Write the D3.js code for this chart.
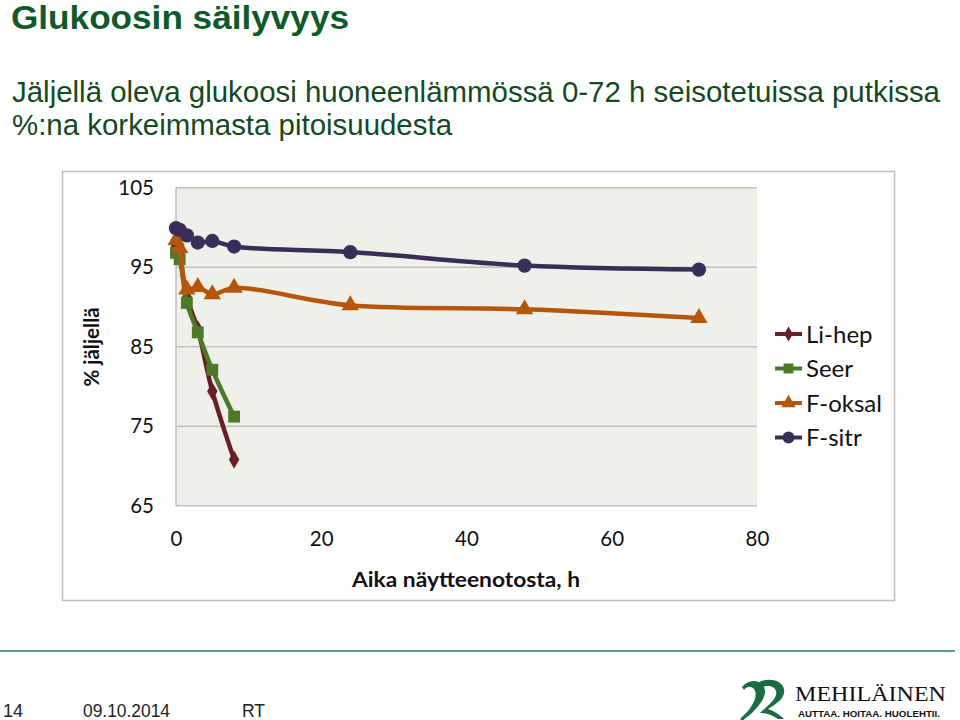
<!DOCTYPE html>
<html><head><meta charset="utf-8">
<script src="https://cdn.jsdelivr.net/npm/d3@7"></script>
<style>body{margin:0;background:#fff}svg{display:block}</style>
</head><body>
<svg id="c" width="960" height="720"></svg>
<script>
const hours = [0, 0.5, 1.5, 3, 5, 8, 24, 48, 72];
const liHep = [97.6, 96.5, 91.2, 87.2, 79.4, 70.8];
const seer = [96.8, 96.0, 90.5, 86.8, 82.1, 76.2];
const fOksal = [98.4, 97.4, 92.2, 92.5, 91.6, 92.4, 90.2, 89.7, 88.6];
const fSitr = [99.9, 99.7, 99.0, 98.1, 98.3, 97.6, 96.9, 95.2, 94.7];
const seriesNames = ["Li-hep", "Seer", "F-oksal", "F-sitr"];
const seriesColors = ["#6a1f27", "#4d7a28", "#b5560c", "#3a2d58"];
const seriesShapes = ["diamond", "square", "triangle", "circle"];
const yTicks = [65, 75, 85, 95, 105];
const xTicks = [0, 20, 40, 60, 80];

const svg = d3.select("#c");
const green = "#0f5a2a";
const ff = "Liberation Sans, Arial, sans-serif";

// Title
svg.append("text").attr("x", 11).attr("y", 29)
  .attr("font-family", ff).attr("font-weight", "bold")
  .attr("font-size", 33).attr("fill", green)
  .attr("textLength", 338).attr("lengthAdjust", "spacingAndGlyphs").text("Glukoosin säilyvyys");
svg.append("text").attr("x", 12).attr("y", 102)
  .attr("font-family", ff)
  .attr("font-size", 29.5).attr("fill", "#134a23")
  .attr("textLength", 928).attr("lengthAdjust", "spacingAndGlyphs")
  .text("Jäljellä oleva glukoosi huoneenlämmössä 0-72 h seisotetuissa putkissa");
svg.append("text").attr("x", 12).attr("y", 135)
  .attr("font-family", ff)
  .attr("font-size", 29.5).attr("fill", "#134a23")
  .attr("textLength", 440).attr("lengthAdjust", "spacingAndGlyphs")
  .text("%:na korkeimmasta pitoisuudesta");

// Chart frame
svg.append("rect").attr("x", 62.5).attr("y", 171.5).attr("width", 832).attr("height", 429)
  .attr("fill", "#fff").attr("stroke", "#bdbdbd").attr("stroke-width", 1.5);

const x = d3.scaleLinear().domain([0, 80]).range([176, 757]);
const y = d3.scaleLinear().domain([65, 105]).range([505.7, 187.7]);

svg.append("rect").attr("x", x(0)).attr("y", y(105)).attr("width", x(80) - x(0)).attr("height", y(65) - y(105))
  .attr("fill", "#eef0e9");

// gridlines
svg.append("g").selectAll("line").data(yTicks).join("line")
  .attr("x1", x(0)).attr("x2", x(80)).attr("y1", d => y(d)).attr("y2", d => y(d))
  .attr("stroke", "#bfc1bc").attr("stroke-width", 1.5);
svg.append("line").attr("x1", x(0)).attr("x2", x(0)).attr("y1", y(105)).attr("y2", y(65))
  .attr("stroke", "#bfc1bc").attr("stroke-width", 1.5);

const tickFont = "Lato, 'Open Sans', sans-serif";
// y axis
const yAxis = d3.axisLeft(y).tickValues(yTicks).tickSize(0).tickPadding(22);
const gy = svg.append("g").attr("transform", `translate(${x(0)},0)`).call(yAxis);
gy.select(".domain").remove();
gy.selectAll("text").attr("font-family", tickFont).attr("font-size", 20.5).attr("fill", "#111");

const xAxis = d3.axisBottom(x).tickValues(xTicks).tickSize(0).tickPadding(26);
const gx = svg.append("g").attr("transform", `translate(0,${y(65)})`).call(xAxis);
gx.select(".domain").remove();
gx.selectAll("text").attr("font-family", tickFont).attr("font-size", 20.5).attr("fill", "#111");

svg.append("text").attr("x", 466).attr("y", 587).attr("text-anchor", "middle")
  .attr("font-family", tickFont).attr("font-weight", "bold").attr("font-size", 21).attr("fill", "#111")
  .attr("textLength", 228).attr("lengthAdjust", "spacingAndGlyphs")
  .text("Aika näytteenotosta, h");
svg.append("text").attr("transform", "translate(99,347) rotate(-90)").attr("text-anchor", "middle")
  .attr("font-family", tickFont).attr("font-weight", "bold").attr("font-size", 20.5).attr("fill", "#111")
  .text("% jäljellä");

const allValues = [liHep, seer, fOksal, fSitr];
const symbolType = {diamond: d3.symbolDiamond, square: d3.symbolSquare, triangle: d3.symbolTriangle, circle: d3.symbolCircle};
const symbolSize = {diamond: 95, square: 140, triangle: 130, circle: 160};
const line = d3.line().x(d => x(d[0])).y(d => y(d[1])).curve(d3.curveCatmullRom.alpha(0.5));

[0, 1, 2, 3].forEach(i => {
  const pts = allValues[i].map((v, j) => [hours[j], v]);
  const g = svg.append("g");
  g.append("path").attr("d", line(pts)).attr("fill", "none")
    .attr("stroke", seriesColors[i]).attr("stroke-width", 4.5).attr("stroke-linejoin", "round");
  g.selectAll("path.m").data(pts).join("path").attr("class", "m")
    .attr("transform", d => `translate(${x(d[0])},${y(d[1])})`)
    .attr("d", d3.symbol().type(symbolType[seriesShapes[i]]).size(symbolSize[seriesShapes[i]]))
    .attr("fill", seriesColors[i]);
});

// legend
const lg = svg.append("g");
seriesNames.forEach((name, i) => {
  const ly = 334 + i * 34.5;
  lg.append("line").attr("x1", 775).attr("x2", 802).attr("y1", ly).attr("y2", ly)
    .attr("stroke", seriesColors[i]).attr("stroke-width", 4);
  lg.append("path").attr("transform", `translate(788.5,${ly})`)
    .attr("d", d3.symbol().type(symbolType[seriesShapes[i]]).size(symbolSize[seriesShapes[i]] * 0.7))
    .attr("fill", seriesColors[i]);
  lg.append("text").attr("x", 806).attr("y", ly + 8.5).attr("font-family", tickFont)
    .attr("font-size", 24).attr("fill", "#111").text(name);
});

// footer
svg.append("line").attr("x1", 0).attr("x2", 955).attr("y1", 651).attr("y2", 651)
  .attr("stroke", "#5a9f84").attr("stroke-width", 2);
[["14", 3, 20], ["09.10.2014", 83, 87], ["RT", 242, 23]].forEach(([t, px, w]) => {
  svg.append("text").attr("x", px).attr("y", 717).attr("font-family", ff).attr("font-size", 18)
    .attr("textLength", w).attr("lengthAdjust", "spacingAndGlyphs")
    .attr("fill", "#222").text(t);
});
// logo
const logo = svg.append("g").attr("transform", "translate(738,677)");
logo.append("path").attr("d", "M4,10 C10,2 22,2 26,10 C30,18 22,28 14,36 L4,44 L2,42 L10,34 C16,26 20,18 16,12 C12,8 8,10 6,13 Z")
  .attr("fill", "#1b6b43");
logo.append("path").attr("d", "M20,6 C28,0 44,2 46,12 C48,22 36,28 30,32 C36,34 42,38 46,42 L40,42 C34,38 28,36 22,36 C30,28 40,22 38,14 C36,8 28,8 23,11 Z")
  .attr("fill", "#1b6b43");
logo.append("text").attr("x", 57).attr("y", 24).attr("font-family", "Liberation Serif, serif")
  .attr("font-size", 22).attr("fill", "#111")
  .attr("textLength", 151).attr("lengthAdjust", "spacingAndGlyphs").text("MEHILÄINEN");
logo.append("text").attr("x", 60).attr("y", 40).attr("font-family", ff)
  .attr("font-weight", "bold").attr("font-size", 9.5).attr("fill", "#111")
  .attr("textLength", 142).attr("lengthAdjust", "spacingAndGlyphs").text("AUTTAA. HOITAA. HUOLEHTII.");
</script>
</body></html>
